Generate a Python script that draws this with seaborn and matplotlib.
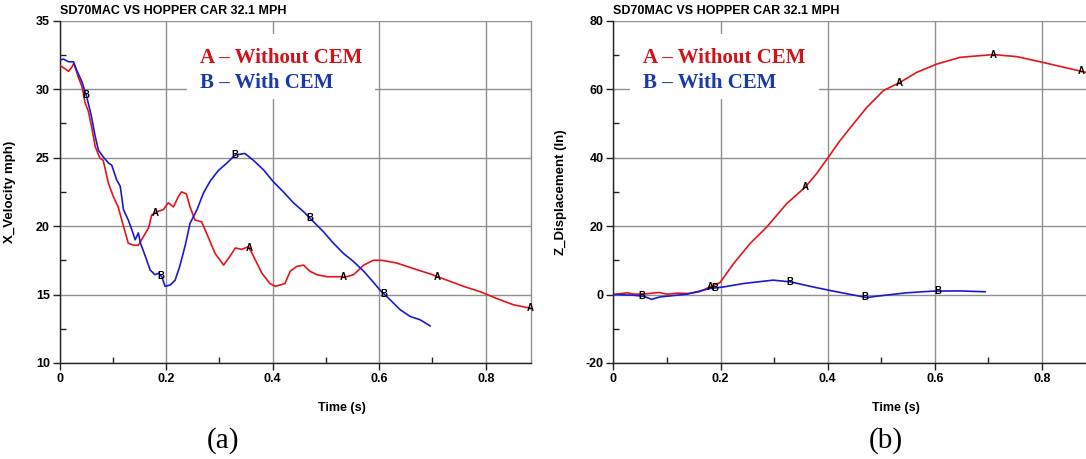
import matplotlib
matplotlib.use('Agg')
import matplotlib.pyplot as plt
import matplotlib.ticker as mticker
from matplotlib.patches import Rectangle
import numpy as np
import pandas as pd
import seaborn as sns

# ---- (a) X velocity (mph) vs time (s) ----
vel_t_a = [0, 0.01, 0.017, 0.023, 0.027, 0.035, 0.042, 0.048, 0.054, 0.06, 0.067, 0.076, 0.082,
           0.092, 0.101, 0.11, 0.12, 0.129, 0.139, 0.148, 0.157, 0.167, 0.173, 0.183, 0.195, 0.204,
           0.214, 0.223, 0.229, 0.238, 0.245, 0.254, 0.267, 0.279, 0.292, 0.308, 0.32, 0.33, 0.342,
           0.355, 0.364, 0.38, 0.395, 0.405, 0.423, 0.433, 0.445, 0.458, 0.47, 0.483, 0.502, 0.52,
           0.539, 0.552, 0.571, 0.589, 0.605, 0.633, 0.664, 0.696, 0.727, 0.758, 0.79, 0.821, 0.852, 0.884]
vel_a = [31.75, 31.5, 31.3, 31.6, 31.9, 30.9, 30.2, 29.0, 28.4, 27.3, 25.8, 24.95, 24.8,
         23.1, 22.15, 21.4, 20.0, 18.75, 18.6, 18.6, 19.2, 19.85, 20.8, 21.05, 21.2, 21.7,
         21.4, 22.15, 22.5, 22.35, 21.4, 20.45, 20.3, 19.2, 18.0, 17.15, 17.8, 18.4, 18.3,
         18.5, 17.8, 16.55, 15.8, 15.6, 15.8, 16.7, 17.05, 17.15, 16.7, 16.45, 16.3, 16.3,
         16.3, 16.45, 17.15, 17.5, 17.5, 17.3, 16.9, 16.5, 16.05, 15.6, 15.2, 14.7, 14.25, 14.0]

vel_t_b = [0, 0.007, 0.017, 0.026, 0.032, 0.042, 0.051, 0.06, 0.067, 0.073, 0.082, 0.092, 0.098,
           0.107, 0.114, 0.12, 0.129, 0.136, 0.142, 0.148, 0.152, 0.161, 0.17, 0.179, 0.186, 0.192,
           0.198, 0.208, 0.217, 0.226, 0.236, 0.245, 0.258, 0.27, 0.283, 0.298, 0.314, 0.33, 0.348,
           0.364, 0.383, 0.401, 0.42, 0.439, 0.458, 0.477, 0.495, 0.514, 0.533, 0.552, 0.571, 0.589,
           0.602, 0.621, 0.639, 0.658, 0.677, 0.696]
vel_b = [32.1, 32.2, 32.0, 32.0, 31.4, 30.55, 29.45, 28.0, 26.55, 25.55, 25.05, 24.6, 24.45,
         23.4, 22.9, 21.2, 20.45, 19.7, 19.0, 19.5, 18.75, 17.8, 16.8, 16.45, 16.55, 16.3,
         15.6, 15.7, 16.05, 17.1, 18.6, 20.2, 21.2, 22.4, 23.3, 24.05, 24.6, 25.2, 25.3,
         24.8, 24.1, 23.25, 22.5, 21.7, 21.05, 20.3, 19.6, 18.75, 18.0, 17.4, 16.7, 15.9,
         15.3, 14.6, 13.9, 13.4, 13.15, 12.7]

# ---- (b) Z displacement (in) vs time (s) ----
disp_t_a = [0, 0.025, 0.04, 0.06, 0.085, 0.1, 0.12, 0.14, 0.16, 0.18, 0.199, 0.224, 0.255, 0.286,
            0.323, 0.358, 0.379, 0.401, 0.423, 0.448, 0.473, 0.504, 0.535, 0.566, 0.603, 0.647,
            0.709, 0.753, 0.802, 0.846, 0.882]
disp_a = [0, 0.5, 0.1, 0.2, 0.6, 0.1, 0.4, 0.3, 0.8, 2.2, 3.5, 9.0, 14.9, 19.7,
          26.5, 31.4, 35.3, 40.1, 45.0, 49.9, 54.7, 59.6, 62.0, 64.9, 67.3, 69.3,
          70.1, 69.5, 67.8, 66.2, 64.9]

disp_t_b = [0, 0.037, 0.056, 0.071, 0.087, 0.112, 0.137, 0.161, 0.18, 0.205, 0.242, 0.298, 0.33,
            0.373, 0.41, 0.473, 0.491, 0.547, 0.597, 0.647, 0.694]
disp_b = [0, -0.2, -0.5, -1.4, -0.7, -0.3, 0.1, 1.0, 1.75, 2.2, 3.2, 4.2, 3.7,
          2.2, 1.0, -0.9, -0.5, 0.5, 1.0, 1.05, 0.8]

# curve id letters
vel_lbl_a = [0.179, 0.356, 0.533, 0.709, 0.884]
vel_lbl_b = [0.05, 0.19, 0.33, 0.469, 0.609]
disp_lbl_a = [0.18, 0.358, 0.534, 0.709, 0.874]
disp_lbl_b = [0.053, 0.19, 0.33, 0.47, 0.606]

title = 'SD70MAC VS HOPPER CAR 32.1 MPH'
RED = '#e3151b'
BLUE = '#1a1ad2'
GRID = '#8f8f8f'
DARK = '#222222'

sns.set_theme(style='white')
plt.rcParams['font.family'] = ['Liberation Sans', 'DejaVu Sans']
plt.rcParams['font.weight'] = 'bold'
plt.rcParams['axes.unicode_minus'] = False
plt.rcParams['text.color'] = 'black'
plt.rcParams['axes.labelcolor'] = 'black'
plt.rcParams['xtick.color'] = 'black'
plt.rcParams['ytick.color'] = 'black'

fig = plt.figure(figsize=(10.86, 4.59), dpi=100)
ax1 = fig.add_axes([0.0548, 0.2092, 0.4342, 0.7457])
ax2 = fig.add_axes([0.5649, 0.2092, 0.4351, 0.7457])


def style_axis(ax, xmax, ylim, ymajor, yminor):
    ax.set_xlim(0, xmax)
    ax.set_ylim(*ylim)
    ax.xaxis.set_major_locator(mticker.MultipleLocator(0.2))
    ax.xaxis.set_minor_locator(mticker.MultipleLocator(0.1))
    ax.yaxis.set_major_locator(mticker.MultipleLocator(ymajor))
    ax.yaxis.set_minor_locator(mticker.MultipleLocator(yminor))
    ax.xaxis.set_major_formatter(mticker.FuncFormatter(
        lambda v, p: '0' if abs(v) < 1e-9 else f'{v:.1f}'))
    ax.grid(True, which='major', color=GRID, lw=1.0)
    ax.tick_params(which='major', direction='out', length=5, width=1, color=DARK,
                   labelsize=9, pad=2, bottom=True, left=True)
    ax.tick_params(which='minor', direction='in', length=4, width=1, color=DARK,
                   bottom=True, left=True)
    for tick in ax.yaxis.get_major_ticks():
        if np.isclose(tick.get_loc(), ylim[1]):
            tick.gridline.set_visible(False)
    for s in ['left', 'bottom']:
        ax.spines[s].set_color(DARK)
        ax.spines[s].set_linewidth(1)
    ax.spines['top'].set_visible(False)
    ax.set_title(title, loc='left', fontsize=9, fontweight='bold', pad=5)


def draw_panel(ax, ta, ya, tb, yb, la, lb):
    df = pd.concat([pd.DataFrame({'t': ta, 'y': ya, 'case': 'A'}),
                    pd.DataFrame({'t': tb, 'y': yb, 'case': 'B'})])
    sns.lineplot(data=df, x='t', y='y', hue='case', palette={'A': RED, 'B': BLUE},
                 sort=False, estimator=None, lw=1.2, legend=False, ax=ax, zorder=3)
    for t in la:
        ax.text(t, np.interp(t, ta, ya), 'A', fontsize=7, ha='center', va='center', zorder=4)
    for t in lb:
        ax.text(t, np.interp(t, tb, yb), 'B', fontsize=7, ha='center', va='center', zorder=4)
    ax.set_xlabel('Time (s)', fontsize=9, fontweight='bold')
    ax.xaxis.set_label_coords(0.598, -0.115)


draw_panel(ax1, vel_t_a, vel_a, vel_t_b, vel_b, vel_lbl_a, vel_lbl_b)
draw_panel(ax2, disp_t_a, disp_a, disp_t_b, disp_b, disp_lbl_a, disp_lbl_b)

style_axis(ax1, 0.885, (10, 35), 5, 2.5)
style_axis(ax2, 0.882, (-20, 80), 20, 10)
ax1.spines['right'].set_color(GRID)
ax1.spines['right'].set_linewidth(1)
ax2.spines['right'].set_visible(False)

ax1.set_ylabel('X_Velocity mph)', fontsize=9.5, fontweight='bold')
ax1.yaxis.set_label_coords(-0.092, 0.5)
ax2.set_ylabel('Z_Displacement (In)', fontsize=9.5, fontweight='bold')
ax2.yaxis.set_label_coords(-0.098, 0.5)

# in-plot key with white backing
for ax, x0, bx in [(ax1, 0.298, 0.27), (ax2, 0.0624, 0.035)]:
    ax.add_patch(Rectangle((bx, 0.77), 0.40, 0.19, transform=ax.transAxes,
                           facecolor='white', edgecolor='none', zorder=1))
    ax.text(x0, 0.876, 'A – Without CEM', transform=ax.transAxes, color='#d0121b',
            family='Liberation Serif', fontsize=15, fontweight='bold', va='baseline', zorder=5)
    ax.text(x0, 0.804, 'B – With CEM', transform=ax.transAxes, color='#1a3aa8',
            family='Liberation Serif', fontsize=15, fontweight='bold', va='baseline', zorder=5)

fig.text(223 / 1086, 1 - 441 / 459, '(a)', family='Liberation Serif', fontsize=21,
         fontweight='normal', ha='center', va='center')
fig.text(886 / 1086, 1 - 441 / 459, '(b)', family='Liberation Serif', fontsize=21,
         fontweight='normal', ha='center', va='center')

fig.savefig('out.png', dpi=100)
